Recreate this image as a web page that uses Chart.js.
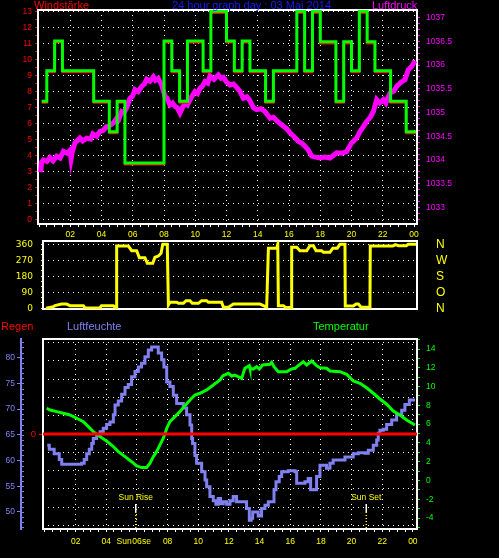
<!DOCTYPE html>
<html><head><meta charset="utf-8">
<script src="https://cdn.jsdelivr.net/npm/chart.js@4/dist/chart.umd.min.js"></script>
<style>
html,body{margin:0;padding:0;background:#000;width:499px;height:558px;overflow:hidden;position:relative;}
canvas{position:absolute;left:0;}
.t{position:absolute;font-family:"Liberation Sans",Arial,sans-serif;font-size:11px;white-space:nowrap;line-height:11px;}
</style></head><body>
<canvas id="c1" width="499" height="256" style="top:-6px"></canvas>
<canvas id="c2" width="499" height="96" style="top:227px"></canvas>
<canvas id="c3" width="499" height="240" style="top:318px"></canvas>
<div class="t" style="left:34px;top:0px;color:#ff0000">Windstärke</div>
<div class="t" style="left:172px;top:0px;color:#1a1aff">24 hour graph day : 03 Mai 2014</div>
<div class="t" style="left:372px;top:0px;color:#ff00ff">Luftdruck</div>
<div class="t" style="left:1px;top:321px;color:#ff0000">Regen</div>
<div class="t" style="left:67px;top:321px;color:#8080f0">Luftfeuchte</div>
<div class="t" style="left:313px;top:321px;color:#00ff00">Temperatur</div>
<script>
// ---------- DATA ----------
// Panel 1: wind (Windstärke) step values, time in hours
const windT = [0.17,0.5,1.0,1.5,3.5,4.5,5.0,5.5,8.0,8.5, 9.0,9.5,10.5,11.0,12.0,12.5,13.0,13.5,14.5,15.0, 16.5,17.0,17.5,18.0,19.0,19.5,20.0,20.5,21.0,21.5, 22.5,23.5,24.13];
const gustV = [7.4,9.3,11.15,9.3,7.4,5.5,7.4,3.55,11.15,9.3, 7.4,11.15,9.3,13.0,11.15,9.3,11.15,9.3,7.4,9.3, 13.0,9.3,13.0,11.1,7.4,11.1,9.3,13.0,11.1,9.3, 7.4,5.5,5.5];
const meanV = [7.3,9.2,11.05,9.2,7.3,5.4,7.3,3.45,11.05,9.2, 7.3,11.05,9.2,12.9,11.05,9.2,11.05,9.2,7.3,9.2, 12.9,9.2,12.9,11.0,7.3,11.0,9.2,12.9,11.0,9.2, 7.3,5.4,5.4];
// Panel 1: pressure (Luftdruck)
const pressT = [0.11,0.16,0.28,0.5,0.7,0.9,1.13,1.35,1.56,1.8,
 1.98,2.05,2.15,2.30,2.62,2.8,3.05,3.3,3.45,3.69,
 3.90,4.1,4.33,4.5,4.76,4.97,5.1,5.29,5.45,5.61,
 5.82,6.0,6.14,6.35,6.57,6.75,6.89,7.1,7.32,7.45,
 7.63,7.85,8.06,8.2,8.38,8.55,8.70,8.85,9.02,9.15,
 9.34,9.5,9.66,9.8,9.98,10.15,10.30,10.45,10.62,10.8,
 10.94,11.2,11.48,11.65,11.80,12.0,12.22,12.45,12.65,12.85,
 13.08,13.3,13.46,13.72,13.93,14.2,14.46,14.78,15.0,15.3,
 15.64,15.85,16.06,16.3,16.60,16.8,17.02,17.25,17.45,17.7,
 17.98,18.3,18.62,18.85,19.05,19.4,19.69,20.01,20.33,20.54,
 20.75,20.97,21.2,21.40,21.61,21.8,22.04,22.2,22.46,22.7,
 22.89,23.05,23.21,23.42,23.63,23.85,24.06];
const pressV = [1033.74,1033.95,1034.0,1033.97,1034.05,1033.98,1034.08,1034.04,1034.18,1034.14,
 1034.2,1034.02,1034.2,1034.36,1034.46,1034.40,1034.46,1034.44,1034.55,1034.5,
 1034.6,1034.62,1034.7,1034.72,1034.78,1034.88,1034.85,1035.02,1035.0,1035.1,
 1035.3,1035.35,1035.48,1035.44,1035.55,1035.6,1035.7,1035.66,1035.75,1035.68,
 1035.72,1035.58,1035.34,1035.3,1035.16,1035.2,1035.13,1035.1,1034.99,1035.08,
 1035.2,1035.16,1035.27,1035.35,1035.44,1035.4,1035.51,1035.55,1035.65,1035.62,
 1035.77,1035.7,1035.79,1035.72,1035.74,1035.64,1035.58,1035.6,1035.53,1035.45,
 1035.3,1035.33,1035.27,1035.1,1035.06,1035.08,1035.02,1034.88,1034.9,1034.8,
 1034.71,1034.66,1034.57,1034.5,1034.39,1034.36,1034.29,1034.2,1034.08,1034.06,
 1034.04,1034.06,1034.04,1034.1,1034.15,1034.14,1034.18,1034.36,1034.46,1034.6,
 1034.7,1034.81,1034.9,1035.02,1035.27,1035.2,1035.27,1035.2,1035.41,1035.45,
 1035.55,1035.6,1035.65,1035.69,1035.9,1035.97,1036.09];
// Panel 2: wind direction (degrees)
const dirT = [0.45,0.92,1.02,1.45,1.77,1.98,2.84,2.94,3.90,4.00,
 4.76,4.93,4.97,5.72,5.93,6.25,6.42,6.78,6.93,7.28,
 7.42,7.64,7.81,7.92,8.21,8.28,8.38,8.81,8.92,9.24,
 9.41,9.66,9.81,10.20,10.41,10.73,10.84,11.69,11.80,12.12,
 12.44,14.14,14.36,14.57,14.68,15.21,15.28,15.32,15.64,15.79,
 16.13,16.17,16.49,16.70,17.13,17.34,17.56,17.73,18.09,18.20,
 18.62,18.80,19.09,19.26,19.58,19.60,20.12,20.29,20.44,20.61,
 21.18,21.20,22.64,22.80,23.00,23.50,23.63,24.13];
const dirV = [0,9,15,24,24,15,15,2,2,15,
 15,0,350,350,324,324,285,285,253,253,
 287,294,309,360,360,19,34,34,28,28,
 43,43,28,28,43,43,34,34,6,6,
 24,24,15,6,338,338,360,15,15,4,
 4,343,343,324,324,352,352,324,324,315,
 315,338,338,360,360,13,13,24,24,6,
 6,350,350,358,352,352,360,360];
const compassDeg = [0,90,180,270,360];
const compassLbl = ['N','O','S','W','N'];
// Panel 3: humidity (Luftfeuchte, %)
const humT = [0.15,0.28,0.60,0.93,1.09,2.39,2.56,2.72,2.89,3.05,
 3.15,3.37,3.59,3.80,4.02,4.24,4.46,4.57,4.78,5.00,
 5.22,5.43,5.65,5.87,6.09,6.30,6.52,6.74,6.96,7.39,
 7.61,7.76,7.94,8.15,8.37,8.59,9.02,9.24,9.46,9.57,
 9.63,9.78,9.89,10.22,10.44,10.55,10.76,10.98,11.15,11.30,
 11.45,11.63,11.85,12.07,12.28,12.50,12.93,13.15,13.33,13.45,
 13.55,13.91,14.13,14.35,14.57,14.94,15.07,15.28,15.44,15.87,
 16.31,16.42,16.96,17.17,17.33,17.72,17.94,18.37,18.59,18.80,
 19.57,20.11,20.44,20.87,21.09,21.42,21.64,21.74,21.85,22.07,
 22.29,22.62,22.94,23.27,23.48,23.77,24.14];
const humV = [63.0,62.2,61.3,60.2,59.3,59.5,60.2,61.3,62.2,63.3,
 64.3,65.0,65.6,66.3,67.0,67.5,68.9,70.8,71.6,72.9,
 74.2,74.8,76.3,77.3,78.2,78.9,80.2,81.5,82.1,80.9,
 79.6,78.2,75.3,74.4,72.7,71.1,70.2,68.9,66.9,64.3,
 63.3,61.0,59.5,57.8,56.2,54.9,53.0,52.2,51.5,52.6,
 51.6,52.0,51.5,52.2,53.0,52.0,52.0,50.7,48.4,48.8,
 50.0,49.2,50.7,51.3,52.0,54.3,55.9,56.9,57.8,58.0,
 57.8,55.6,55.9,56.5,54.3,56.9,59.1,58.5,59.5,60.1,
 60.7,61.3,61.5,61.4,62.0,63.0,64.0,65.3,65.9,66.1,
 67.0,67.9,68.9,69.8,70.9,71.8,71.8];
// Panel 3: temperature (°C)
const tempT = [0.11,0.33,0.76,1.19,1.63,2.07,2.50,2.83,3.15,3.59,
 4.02,4.46,4.78,5.22,5.65,5.98,6.30,6.63,6.85,7.07,
 7.28,7.50,7.72,7.87,7.94,8.15,8.48,8.80,9.13,9.46,
 9.78,10.11,10.55,10.98,11.42,11.59,11.96,12.18,12.39,12.83,
 13.04,13.33,13.37,13.59,13.81,13.98,14.20,14.68,14.79,14.94,
 15.22,15.77,16.09,16.31,16.52,16.85,17.07,17.40,17.72,17.94,
 18.37,18.59,19.24,19.68,20.11,20.55,20.98,21.42,21.85,22.29,
 22.72,23.16,23.59,24.14];
const tempV = [7.69,7.51,7.33,7.16,6.98,6.63,6.27,5.73,5.20,4.67,
 4.20,3.61,3.07,2.54,2.00,1.55,1.37,1.37,1.84,2.54,
 3.07,3.79,4.50,5.20,5.56,6.27,6.80,7.33,7.97,8.57,
 9.10,9.29,9.64,10.17,10.70,11.13,11.41,11.13,11.23,10.88,
 11.95,12.23,11.95,11.87,12.12,11.87,12.30,12.37,12.58,12.12,
 11.59,11.59,11.87,11.95,12.23,12.65,12.30,12.72,12.23,12.01,
 11.95,11.66,11.59,11.31,10.60,10.35,9.88,9.29,8.68,8.12,
 7.40,6.98,6.45,5.91];
// Panel 3: rain (Regen, mm)
const rainT = [-0.2, 24.3];
const rainV = [0, 0];
// Sun events (hours)
const sunT = [5.92, 20.96];
const sunLbl = ['Sun Rise', 'Sun Set'];

// ---------- HELPERS ----------
const FONT = "'Liberation Sans', Arial, sans-serif";
Chart.defaults.font.family = FONT;
const pts = (xs, ys) => xs.map((x, i) => ({x, y: ys[i]}));
const halfHourTicks = s => { s.ticks = []; for (let h = 0; h <= 48; h++) s.ticks.push({value: h / 2}); };
const isEven = v => Math.abs(v / 2 - Math.round(v / 2)) < 1e-9;
const hourLabel = v => (v > 0 && isEven(v)) ? String(Math.round(v) % 24).padStart(2, '0') : '';
const gridX = c => (c.tick && c.tick.value > 0 && isEven(c.tick.value)) ? '#ffffff' : 'transparent';
const pressLabel = v => {
  const r = Math.round(v * 2) / 2;
  if (Math.abs(v - r) > 1e-6) return '';
  return Number.isInteger(r) ? r.toFixed(0) : r.toFixed(1);
};
const DOT = [1, 4];
const frame = {id: 'frame', beforeDatasetsDraw(chart) {
  const a = chart.chartArea, c = chart.ctx;
  c.save(); c.strokeStyle = '#ffffff'; c.lineWidth = 2;
  c.strokeRect(a.left, a.top, a.right - a.left, a.bottom - a.top); c.restore();
}};
const base = {responsive: false, animation: false, devicePixelRatio: 1,
  plugins: {legend: {display: false}, tooltip: {enabled: false}},
  elements: {point: {radius: 0}, line: {tension: 0}}};

// ---------- CHART 1: wind + pressure ----------
new Chart(document.getElementById('c1'), {
  type: 'line',
  data: {datasets: [
    {data: pts(windT, gustV), yAxisID: 'yW', borderColor: '#00ff00', borderWidth: 3, stepped: 'before'},
    {data: pts(windT, meanV), yAxisID: 'yW', borderColor: '#ff0000', borderWidth: 2, stepped: 'before'},
    {data: pts(pressT, pressV), yAxisID: 'yP', borderColor: '#ff00ff', borderWidth: 5}
  ]},
  options: Object.assign({}, base, {
    layout: {padding: {top: 16, left: 0, right: 0, bottom: 0}},
    scales: {
      x: {type: 'linear', min: -0.064, max: 24.19, afterBuildTicks: halfHourTicks, afterFit: s => { s.height = 26; },
        ticks: {autoSkip: false, maxRotation: 0, color: '#ffff00', font: {size: 8.5}, padding: 3, callback: hourLabel},
        grid: {color: gridX, tickColor: '#ffffff', tickLength: 3}, border: {display: false, dash: DOT}},
      yW: {position: 'left', min: -0.25, max: 13.08,
        afterBuildTicks: s => { s.ticks = []; for (let i = 0; i <= 26; i++) s.ticks.push({value: i / 2}); },
        afterFit: s => { s.width = 38; },
        ticks: {autoSkip: false, color: '#ff0000', font: {size: 8.5}, padding: 3, callback: v => Number.isInteger(v) ? String(v) : ''},
        grid: {color: c => (c.tick && Number.isInteger(c.tick.value)) ? '#ffffff' : 'transparent', tickColor: '#ff0000', tickLength: 3},
        border: {display: false, dash: DOT}},
      yP: {position: 'right', min: 1032.65, max: 1037.16,
        afterBuildTicks: s => { s.ticks = []; for (let i = 0; i <= 34; i++) s.ticks.push({value: (8262 + i) / 8}); },
        afterFit: s => { s.width = 82; },
        ticks: {autoSkip: false, color: '#ff00ff', font: {size: 8.5}, padding: 6, callback: pressLabel},
        grid: {drawOnChartArea: false, tickColor: '#ff00ff', tickLength: 3}, border: {display: false}}
    }
  }),
  plugins: [frame]
});

// ---------- CHART 2: wind direction ----------
new Chart(document.getElementById('c2'), {
  type: 'line',
  data: {datasets: [
    {data: pts(dirT, dirV), yAxisID: 'yD', borderColor: '#ffff00', borderWidth: 3}
  ]},
  options: Object.assign({}, base, {
    layout: {padding: {top: 14, left: 0, right: 0, bottom: 14}},
    scales: {
      x: {type: 'linear', display: false, min: 0.256, max: 24.19},
      yD: {position: 'left', min: -3.9, max: 378.6,
        afterBuildTicks: s => { s.ticks = []; for (let d = 0; d <= 360; d += 30) s.ticks.push({value: d}); },
        afterFit: s => { s.width = 43; },
        ticks: {autoSkip: false, color: '#ffff00', font: {size: 9, family: "'DejaVu Sans', sans-serif"}, padding: 8,
          callback: v => (v % 90 === 0) ? String(v) : ''},
        grid: {color: c => (c.tick && c.tick.value % 90 === 0 && c.tick.value > 0) ? '#ffffff' : 'transparent', tickColor: '#ffff00', tickLength: 2},
        border: {display: false, dash: DOT}},
      yC: {position: 'right', min: -3.9, max: 378.6,
        afterBuildTicks: s => { s.ticks = compassDeg.map(v => ({value: v})); },
        afterFit: s => { s.width = 82; },
        ticks: {autoSkip: false, color: '#ffff00', font: {size: 12}, padding: 0, callback: (v, i) => compassLbl[i]},
        grid: {display: true, drawOnChartArea: false, tickColor: 'transparent', tickLength: 19}, border: {display: false}}
    }
  }),
  plugins: [frame]
});

// ---------- CHART 3: humidity, temperature, rain ----------
const sunPlugin = {id: 'sun',
  beforeDraw(chart) {
    const c = chart.ctx, x = chart.scales.x.getPixelForValue(sunT[0]);
    c.save(); c.font = '8.5px ' + FONT; c.fillStyle = '#ffff00'; c.textAlign = 'center'; c.textBaseline = 'middle';
    c.fillText(sunLbl[0], x - 2, chart.chartArea.bottom + 12.7); c.restore();
  },
  afterDatasetsDraw(chart) {
    const c = chart.ctx, sx = chart.scales.x, sr = chart.scales.yR, sh = chart.scales.yH;
    c.save(); c.font = '8.5px ' + FONT; c.fillStyle = '#ffff00'; c.textAlign = 'center'; c.textBaseline = 'middle';
    sunT.forEach((t, i) => c.fillText(sunLbl[i], sx.getPixelForValue(t), sr.getPixelForValue(-0.696)));
    c.strokeStyle = '#8080f0'; c.lineWidth = 1;
    for (let v = 47; v <= 83; v++) { const y = Math.round(sh.getPixelForValue(v)) + 0.5; c.beginPath(); c.moveTo(sh.right, y); c.lineTo(sh.right + 3, y); c.stroke(); }
    c.restore();
  }
};
const sunSets = [];
sunT.forEach(t => {
  sunSets.push({data: [{x: t, y: -0.765}, {x: t, y: -0.852}], yAxisID: 'yR', borderColor: '#ffffff', borderWidth: 1.5});
  sunSets.push({data: [{x: t, y: -0.852}, {x: t, y: -1.04}], yAxisID: 'yR', borderColor: '#ffff00', borderWidth: 1.5, borderDash: [1, 2]});
});
new Chart(document.getElementById('c3'), {
  type: 'line',
  data: {datasets: [
    {data: pts(rainT, rainV), yAxisID: 'yR', borderColor: '#ff0000', borderWidth: 3},
    {data: pts(tempT, tempV), yAxisID: 'yT', borderColor: '#00ff00', borderWidth: 3},
    {data: pts(humT, humV), yAxisID: 'yH', borderColor: '#8080f0', borderWidth: 3, stepped: 'before'}
  ].concat(sunSets)},
  options: Object.assign({}, base, {
    layout: {padding: {top: 21, left: 0, right: 0, bottom: 0}},
    scales: {
      x: {type: 'linear', min: -0.13, max: 24.27, afterBuildTicks: halfHourTicks, afterFit: s => { s.height = 29; },
        ticks: {autoSkip: false, maxRotation: 0, color: '#ffff00', font: {size: 8.5}, padding: 4.5, callback: hourLabel,
          showLabelBackdrop: true, backdropColor: '#000000', backdropPadding: 0},
        grid: {color: gridX, tickColor: '#ffffff', tickLength: 3}, border: {display: false, dash: DOT}},
      yH: {position: 'left', weight: 1, min: 46.69, max: 83.64,
        afterBuildTicks: s => { s.ticks = []; for (let v = 50; v <= 80; v += 5) s.ticks.push({value: v}); },
        afterFit: s => { s.width = 21; },
        ticks: {autoSkip: false, color: '#8080f0', font: {size: 8.5}, padding: 2, callback: v => String(v)},
        grid: {drawOnChartArea: false, tickColor: '#8080f0', tickLength: 4},
        border: {display: true, color: '#8080f0', width: 2}},
      yR: {position: 'left', weight: 0, min: -1.038, max: 1.038,
        afterBuildTicks: s => { s.ticks = []; for (let i = -5; i <= 5; i++) s.ticks.push({value: i / 5}); },
        afterFit: s => { s.width = 22; },
        ticks: {autoSkip: false, color: '#ff0000', font: {size: 9.5}, padding: 3, callback: v => Math.abs(v) < 1e-9 ? '0' : ''},
        grid: {color: '#ffffff', tickColor: c => (c.tick && Math.abs(c.tick.value) < 1e-9) ? '#ff0000' : 'transparent', tickLength: 4},
        border: {display: false, dash: DOT}},
      yT: {position: 'right', min: -5.17, max: 15.07,
        afterBuildTicks: s => { s.ticks = []; for (let v = -5; v <= 15; v++) s.ticks.push({value: v}); },
        afterFit: s => { s.width = 82; },
        ticks: {autoSkip: false, color: '#00ff00', font: {size: 8.5}, padding: 6, callback: v => isEven(v) ? String(v) : ''},
        grid: {drawOnChartArea: false, tickColor: '#00ff00', tickLength: 3}, border: {display: false}}
    }
  }),
  plugins: [frame, sunPlugin]
});
</script>
</body></html>
